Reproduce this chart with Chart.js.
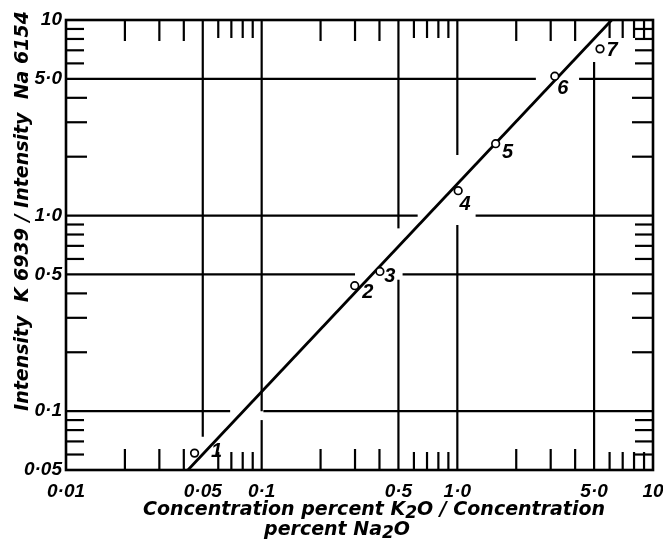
<!DOCTYPE html>
<html>
<head>
<meta charset="utf-8">
<title>K/Na intensity ratio vs concentration ratio</title>
<script src="https://cdn.jsdelivr.net/npm/chart.js@4.4.1/dist/chart.umd.min.js"></script>
<style>
  html, body { margin: 0; padding: 0; background: #fff; }
</style>
</head>
<body>
<canvas id="chart" width="663" height="545"></canvas>
<script>
// samples 1..7 : concentration ratio K2O/Na2O against line intensity ratio K 6939 / Na 6154
var sampleNames = ['1', '2', '3', '4', '5', '6', '7'];
var concRatio = [0.0454, 0.299, 0.402, 1.01, 1.57, 3.15, 5.36];
var intensityRatio = [0.061, 0.438, 0.518, 1.34, 2.33, 5.16, 7.12];

// calibration line, drawn edge to edge of the frame
var fitConc = [0.042, 6.15];
var fitIntensity = [0.05, 10];

var xTickValues = [0.01, 0.05, 0.1, 0.5, 1, 5, 10];
var xTickLabels = ['0·01', '0·05', '0·1', '0·5', '1·0', '5·0', '10'];
var yTickValues = [0.05, 0.1, 0.5, 1, 5, 10];
var yTickLabels = ['0·05', '0·1', '0·5', '1·0', '5·0', '10'];

var ink = '#000';
var numFace = { family: 'Liberation Sans', size: 19, style: 'italic', weight: 'bold' };
var titleFont = 'bold italic 19px "DejaVu Sans"';
var subFont = 'bold italic 17px "DejaVu Sans"';

// ruled lines, with the breaks left open around the numbers and the curve
var xRules = [
  { at: 0.05, runs: [[0.074, 10]] },
  { at: 0.1,  runs: [[0.05, 0.09], [0.1, 10]] },
  { at: 0.5,  runs: [[0.05, 0.47], [0.86, 10]] },
  { at: 1,    runs: [[0.05, 0.895], [2.04, 10]] },
  { at: 5,    runs: [[0.05, 6.1]] }
];
var yRules = [
  { at: 0.1, runs: [[0.01, 0.069], [0.102, 10]] },
  { at: 0.5, runs: [[0.01, 0.30], [0.525, 10]] },
  { at: 1,   runs: [[0.01, 0.627], [1.24, 10]] },
  { at: 5,   runs: [[0.01, 2.52], [4.19, 10]] }
];

// where each sample number sits relative to its circle (px)
var labelOffsets = [[22, -2], [13, 7], [10, 5], [7, 14], [12, 9], [8, 12], [12, 2]];

function seg(ctx, x0, y0, x1, y1) {
  ctx.beginPath();
  ctx.moveTo(x0, y0);
  ctx.lineTo(x1, y1);
  ctx.stroke();
}

// minor log divisions 2,3,4 and 6..9 in each decade
function minorValues(min, max) {
  var out = [];
  for (var d = 0.01; d < max * 1.01; d *= 10) {
    [2, 3, 4, 6, 7, 8, 9].forEach(function(m) {
      var v = Math.round(m * d * 1e6) / 1e6;
      if (v > min && v < max) out.push({ v: v, long: m < 5 });
    });
  }
  return out;
}

// text with a dropped "2" for the chemical formulae
function drawRuns(ctx, runs, cx, cy) {
  var w = 0;
  runs.forEach(function(r) {
    ctx.font = r.sub ? subFont : titleFont;
    w += ctx.measureText(r.t).width;
  });
  var x = cx - w / 2;
  runs.forEach(function(r) {
    ctx.font = r.sub ? subFont : titleFont;
    ctx.fillText(r.t, x, cy + (r.sub ? 4 : 0));
    x += ctx.measureText(r.t).width;
  });
}

var framePlugin = {
  id: 'frame',
  beforeDatasetsDraw: function(chart) {
    var ctx = chart.ctx, a = chart.chartArea;
    var xs = chart.scales.x, ys = chart.scales.y;
    ctx.save();
    ctx.strokeStyle = ink;
    ctx.lineCap = 'butt';

    ctx.lineWidth = 2.2;
    xRules.forEach(function(r) {
      var px = xs.getPixelForValue(r.at);
      r.runs.forEach(function(s) {
        seg(ctx, px, ys.getPixelForValue(s[0]), px, ys.getPixelForValue(s[1]));
      });
    });
    yRules.forEach(function(r) {
      var py = ys.getPixelForValue(r.at);
      r.runs.forEach(function(s) {
        seg(ctx, xs.getPixelForValue(s[0]), py, xs.getPixelForValue(s[1]), py);
      });
    });

    // inward tick marks on all four sides
    minorValues(0.01, 10).forEach(function(t) {
      var px = xs.getPixelForValue(t.v), len = t.long ? 21 : 18;
      seg(ctx, px, a.bottom, px, a.bottom - len);
      seg(ctx, px, a.top, px, a.top + len);
    });
    minorValues(0.05, 10).forEach(function(t) {
      var py = ys.getPixelForValue(t.v), len = t.long ? 21 : 18;
      seg(ctx, a.left, py, a.left + len, py);
      seg(ctx, a.right, py, a.right - len, py);
    });

    ctx.lineWidth = 2.6;
    ctx.strokeRect(a.left, a.top, a.right - a.left, a.bottom - a.top);
    ctx.restore();
  },
  afterDatasetsDraw: function(chart) {
    var ctx = chart.ctx;
    var meta = chart.getDatasetMeta(0);
    ctx.save();
    ctx.fillStyle = ink;
    ctx.font = 'bold italic 20px "Liberation Sans"';
    ctx.textAlign = 'center';
    ctx.textBaseline = 'middle';
    meta.data.forEach(function(pt, i) {
      ctx.fillText(sampleNames[i], pt.x + labelOffsets[i][0], pt.y + labelOffsets[i][1]);
    });
    ctx.restore();
  },
  afterDraw: function(chart) {
    var ctx = chart.ctx;
    ctx.save();
    ctx.fillStyle = ink;
    ctx.textAlign = 'left';
    ctx.textBaseline = 'middle';
    drawRuns(ctx, [{ t: 'Concentration percent K' }, { t: '2', sub: true }, { t: 'O / Concentration' }], 374, 510);
    drawRuns(ctx, [{ t: 'percent Na' }, { t: '2', sub: true }, { t: 'O' }], 337, 530);

    ctx.translate(23, 211);
    ctx.rotate(-Math.PI / 2);
    ctx.textAlign = 'center';
    ctx.font = titleFont;
    ctx.fillText('Intensity  K 6939 / Intensity  Na 6154', 0, 0);
    ctx.restore();
  }
};

function pairs(xs, ys) {
  return xs.map(function(x, i) { return { x: x, y: ys[i] }; });
}

new Chart(document.getElementById('chart'), {
  type: 'scatter',
  data: {
    datasets: [{
      label: 'samples',
      data: pairs(concRatio, intensityRatio),
      pointRadius: 3.8,
      pointBorderWidth: 1.7,
      pointBorderColor: ink,
      pointBackgroundColor: '#fff',
      showLine: false
    }, {
      label: 'calibration',
      data: pairs(fitConc, fitIntensity),
      showLine: true,
      borderColor: ink,
      borderWidth: 2.8,
      pointRadius: 0
    }]
  },
  options: {
    responsive: false,
    animation: false,
    events: [],
    layout: { padding: { top: 20, right: 10, left: 0, bottom: 0 } },
    plugins: { legend: { display: false }, tooltip: { enabled: false } },
    scales: {
      x: {
        type: 'logarithmic',
        min: 0.01,
        max: 10,
        afterBuildTicks: function(s) {
          s.ticks = xTickValues.map(function(v) { return { value: v }; });
        },
        afterFit: function(s) {
          s.height = 75;
          s.paddingLeft = 0;
          s.paddingRight = 0;
        },
        grid: { display: false, drawTicks: false },
        border: { display: false },
        ticks: {
          autoSkip: false,
          maxRotation: 0,
          padding: 10,
          color: ink,
          font: numFace,
          callback: function(v, i) { return xTickLabels[i]; }
        }
      },
      y: {
        type: 'logarithmic',
        min: 0.05,
        max: 10,
        afterBuildTicks: function(s) {
          s.ticks = yTickValues.map(function(v) { return { value: v }; });
        },
        afterFit: function(s) {
          s.width = 66;
          s.paddingTop = 0;
          s.paddingBottom = 0;
        },
        grid: { display: false, drawTicks: false },
        border: { display: false },
        ticks: {
          autoSkip: false,
          padding: 4,
          color: ink,
          font: numFace,
          callback: function(v, i) { return yTickLabels[i]; }
        }
      }
    }
  },
  plugins: [framePlugin]
});
</script>
</body>
</html>
